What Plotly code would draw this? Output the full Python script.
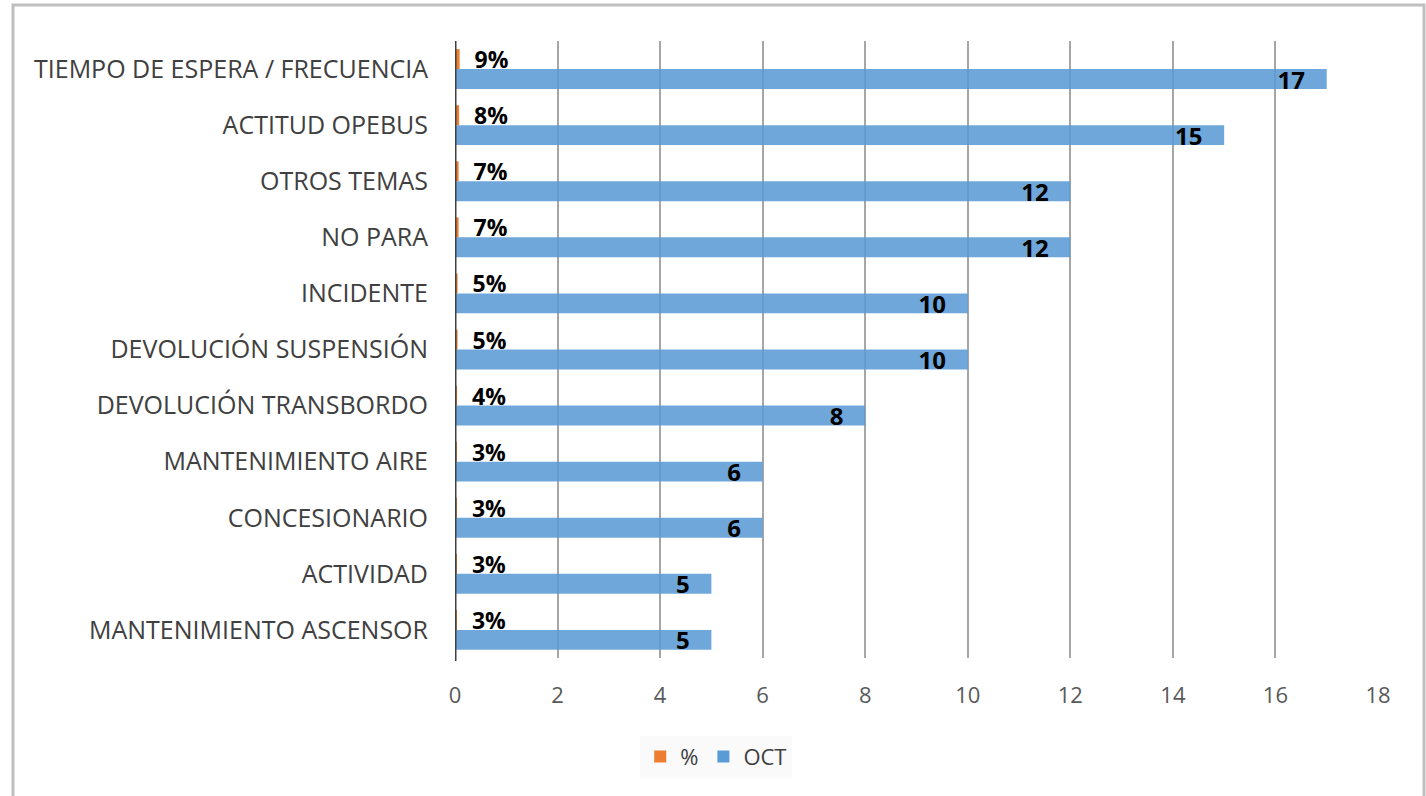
import plotly.graph_objects as go

categories = [
    "TIEMPO DE ESPERA / FRECUENCIA",
    "ACTITUD OPEBUS",
    "OTROS TEMAS",
    "NO PARA",
    "INCIDENTE",
    "DEVOLUCIÓN SUSPENSIÓN",
    "DEVOLUCIÓN TRANSBORDO",
    "MANTENIMIENTO AIRE",
    "CONCESIONARIO",
    "ACTIVIDAD",
    "MANTENIMIENTO ASCENSOR",
]
pct_values = [0.09, 0.08, 0.07, 0.07, 0.05, 0.05, 0.04, 0.03, 0.03, 0.03, 0.03]
oct_values = [17, 15, 12, 12, 10, 10, 8, 6, 6, 5, 5]
x_ticks = [0, 2, 4, 6, 8, 10, 12, 14, 16, 18]

FONT = "Open Sans"
NBSP = "\u00a0"
W, H = 1426, 796
ML, MR, MT, MB = 455, 48, 41, 138

fig = go.Figure()
fig.add_trace(go.Bar(
    name="%", y=categories, x=pct_values, orientation="h",
    marker=dict(color="#ED7D31", line=dict(width=0)),
    texttemplate=NBSP * 2 + "%{x:.0%}", textposition="outside", cliponaxis=False,
    textangle=0, constraintext="none",
    textfont=dict(family=FONT, size=23, color="#000000", weight="bold"),
))
fig.add_trace(go.Bar(
    name="OCT", y=categories, x=oct_values, orientation="h",
    marker=dict(color="#5B9BD5", opacity=0.88, line=dict(width=0)),
    texttemplate="%{x}" + NBSP * 3, textposition="inside", insidetextanchor="end",
    textangle=0, constraintext="none",
    textfont=dict(family=FONT, size=24, color="#000000", weight="bold"),
))

# outer chart frame
pw, ph = W - ML - MR, H - MT - MB
fig.add_shape(
    type="rect", xref="paper", yref="paper",
    x0=(13 - ML) / pw, x1=(1424 - ML) / pw,
    y0=(H - MB - 800) / ph, y1=(H - MB - 5) / ph,
    line=dict(color="#BFBFBF", width=3), fillcolor="rgba(0,0,0,0)", layer="below",
)

fig.update_layout(
    width=W, height=H,
    margin=dict(l=ML, r=MR, t=MT, b=MB),
    paper_bgcolor="white", plot_bgcolor="white",
    barmode="group", bargap=0.29, bargroupgap=0,
    font=dict(family=FONT, size=22, color="#404040"),
    uniformtext=dict(mode=False),
    showlegend=True,
    legend=dict(
        orientation="h", x=0.283, xanchor="center", y=-0.16, yanchor="middle",
        font=dict(family=FONT, size=22, color="#404040"),
        bgcolor="#FAFAFA", itemwidth=30, traceorder="normal",
    ),
    xaxis=dict(
        range=[0, 18], tickvals=x_ticks, showgrid=True, gridcolor="#A6A6A6", gridwidth=2,
        zeroline=False, showline=False, ticks="",
        tickfont=dict(family=FONT, size=22, color="#595959"),
        ticklabelstandoff=22,
    ),
    yaxis=dict(
        autorange="reversed", showgrid=False, zeroline=False, ticks="",
        showline=False,
        tickfont=dict(family=FONT, size=25, color="#404040"),
        ticklabelstandoff=26,
    ),
)

# dark baseline at zero
fig.add_shape(
    type="line", xref="x", yref="paper", x0=0, x1=0, y0=-0.005, y1=1,
    line=dict(color="#404040", width=3),
)

fig.write_html("out.html")
